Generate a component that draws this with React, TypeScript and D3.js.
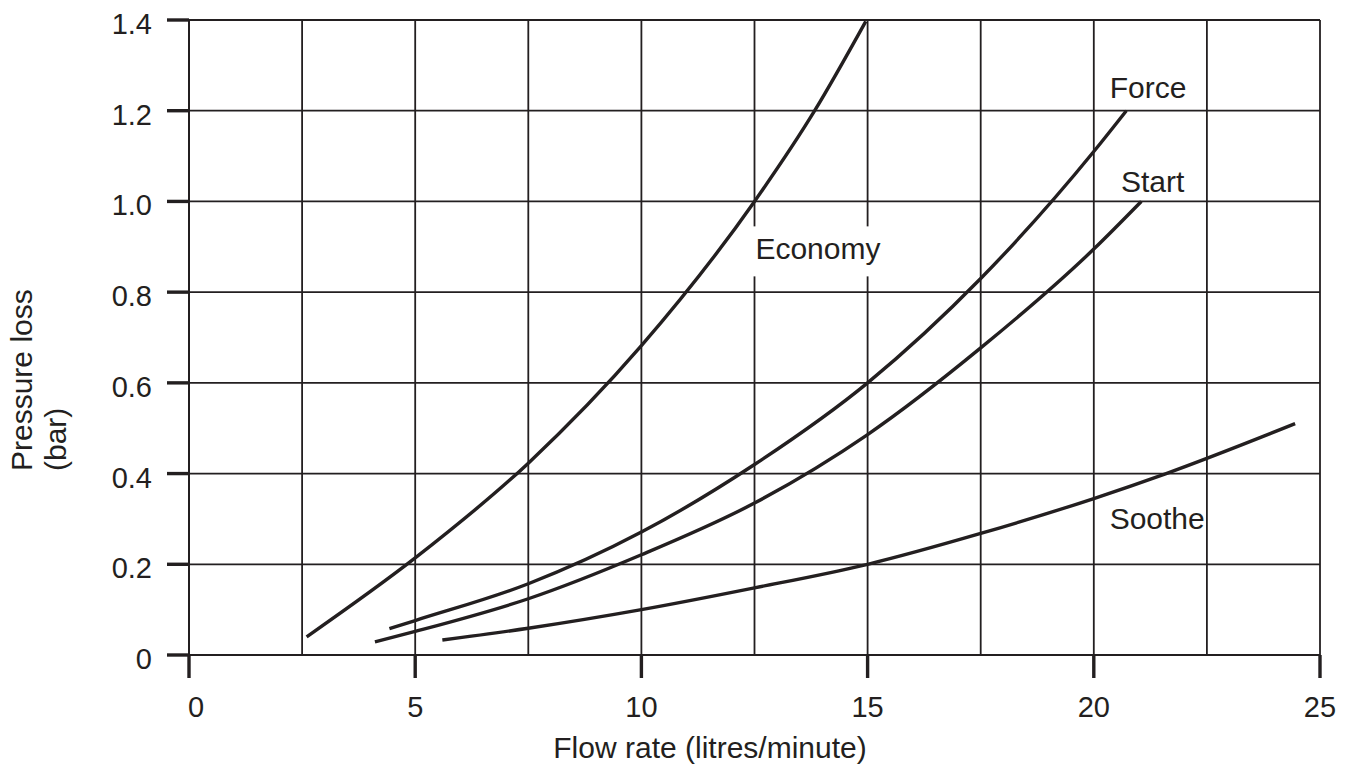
import * as d3 from "d3";

// Flow rate (litres/minute) vs pressure loss (bar)
const economy: [number, number][] = [
  [2.6, 0.04], [5, 0.214], [7.5, 0.423], [10, 0.682],
  [12.5, 1.0], [13.83, 1.2], [14.96, 1.397],
];
const force: [number, number][] = [
  [4.43, 0.058], [5, 0.076], [7.5, 0.157], [10, 0.271], [12.5, 0.42],
  [15, 0.6], [17.5, 0.83], [20, 1.11], [20.72, 1.2],
];
const start: [number, number][] = [
  [4.11, 0.029], [5, 0.052], [7.5, 0.124], [10, 0.221], [12.5, 0.335],
  [15, 0.486], [17.5, 0.677], [20, 0.895], [21.05, 1.0],
];
const soothe: [number, number][] = [
  [5.6, 0.033], [7.5, 0.059], [10, 0.1], [12.5, 0.148], [15, 0.2],
  [17.5, 0.268], [20, 0.345], [21.6, 0.4], [24.45, 0.51],
];

const seriesNames = ["Economy", "Force", "Start", "Soothe"];
const seriesData = [economy, force, start, soothe];
// label anchor (left/baseline) in data units
const labelPos: [number, number][] = [[12.52, 0.874], [20.35, 1.228], [20.6, 1.02], [20.35, 0.278]];

const xTicks = [0, 5, 10, 15, 20, 25];
const xGrid = [2.5, 5, 7.5, 10, 12.5, 15, 17.5, 20, 22.5, 25];
const yTicks = [0, 0.2, 0.4, 0.6, 0.8, 1.0, 1.2, 1.4];
const yTickLabels = ["0", "0.2", "0.4", "0.6", "0.8", "1.0", "1.2", "1.4"];

const xTitle = "Flow rate (litres/minute)";
const yTitle = ["Pressure loss", "(bar)"];

const ink = "#231f20";
const font = "'Liberation Sans', Arial, Helvetica, sans-serif";

const width = 1356;
const height = 765;
const margin = { top: 20, right: 36, bottom: 110, left: 189 };

const App = () => {
  const x = d3.scaleLinear().domain([0, 25]).range([margin.left, width - margin.right]);
  const y = d3.scaleLinear().domain([0, 1.4]).range([height - margin.bottom, margin.top]);

  const line = d3
    .line<[number, number]>()
    .x(d => x(d[0]))
    .y(d => y(d[1]))
    .curve(d3.curveMonotoneX);

  const x0 = x(0), x1 = x(25), y0 = y(0), y1 = y(1.4);

  return (
    <svg
      width={width}
      height={height}
      style={{ position: "absolute", left: 0, top: 0, background: "#fff" }}
      fontFamily={font}
    >
      {/* grid */}
      <g stroke={ink} strokeWidth={1.8}>
        {xGrid.map(v => (
          <line key={"gx" + v} x1={x(v)} x2={x(v)} y1={y1} y2={y0} />
        ))}
        {yTicks.slice(1).map(v => (
          <line key={"gy" + v} x1={x0} x2={x1} y1={y(v)} y2={y(v)} />
        ))}
      </g>

      {/* white box behind the Economy label */}
      <rect x={x(12.5) - 3} y={y(0.945)} width={133} height={50} fill="#fff" />

      {/* axes */}
      <g stroke={ink}>
        <line x1={x0} x2={x0} y1={y1} y2={y0} strokeWidth={2} />
        <line x1={x0} x2={x1} y1={y0} y2={y0} strokeWidth={2} />
        {yTicks.map(v => (
          <line key={"ty" + v} x1={x0 - 22} x2={x0} y1={y(v)} y2={y(v)} strokeWidth={3.4} />
        ))}
        {xTicks.map(v => (
          <line key={"tx" + v} x1={x(v)} x2={x(v)} y1={y0} y2={y0 + 23} strokeWidth={3.4} />
        ))}
      </g>

      {/* tick labels */}
      <g fill={ink} fontSize={29}>
        {yTicks.map((v, i) => (
          <text key={"ly" + v} x={x0 - 37} y={y(v) + 14} textAnchor="end">
            {yTickLabels[i]}
          </text>
        ))}
        {xTicks.map(v => (
          <text key={"lx" + v} x={x(v) + (v === 0 ? 7 : 0)} y={y0 + 62} textAnchor="middle">
            {v}
          </text>
        ))}
      </g>

      {/* axis titles */}
      <text x={710} y={y0 + 103} textAnchor="middle" fontSize={30} fill={ink}>
        {xTitle}
      </text>
      <g transform="rotate(-90)" fontSize={30} fill={ink}>
        {yTitle.map((t, i) => (
          <text key={t} x={-471} y={32 + i * 34}>
            {t}
          </text>
        ))}
      </g>

      {/* curves */}
      <g fill="none" stroke={ink} strokeWidth={3.4}>
        {seriesData.map((s, i) => (
          <path key={seriesNames[i]} d={line(s) ?? ""} />
        ))}
      </g>

      {/* curve labels */}
      <g fontSize={30} fill={ink}>
        {seriesNames.map((n, i) => (
          <text key={"n" + n} x={x(labelPos[i][0])} y={y(labelPos[i][1])}>
            {n}
          </text>
        ))}
      </g>
    </svg>
  );
};

export default App;
